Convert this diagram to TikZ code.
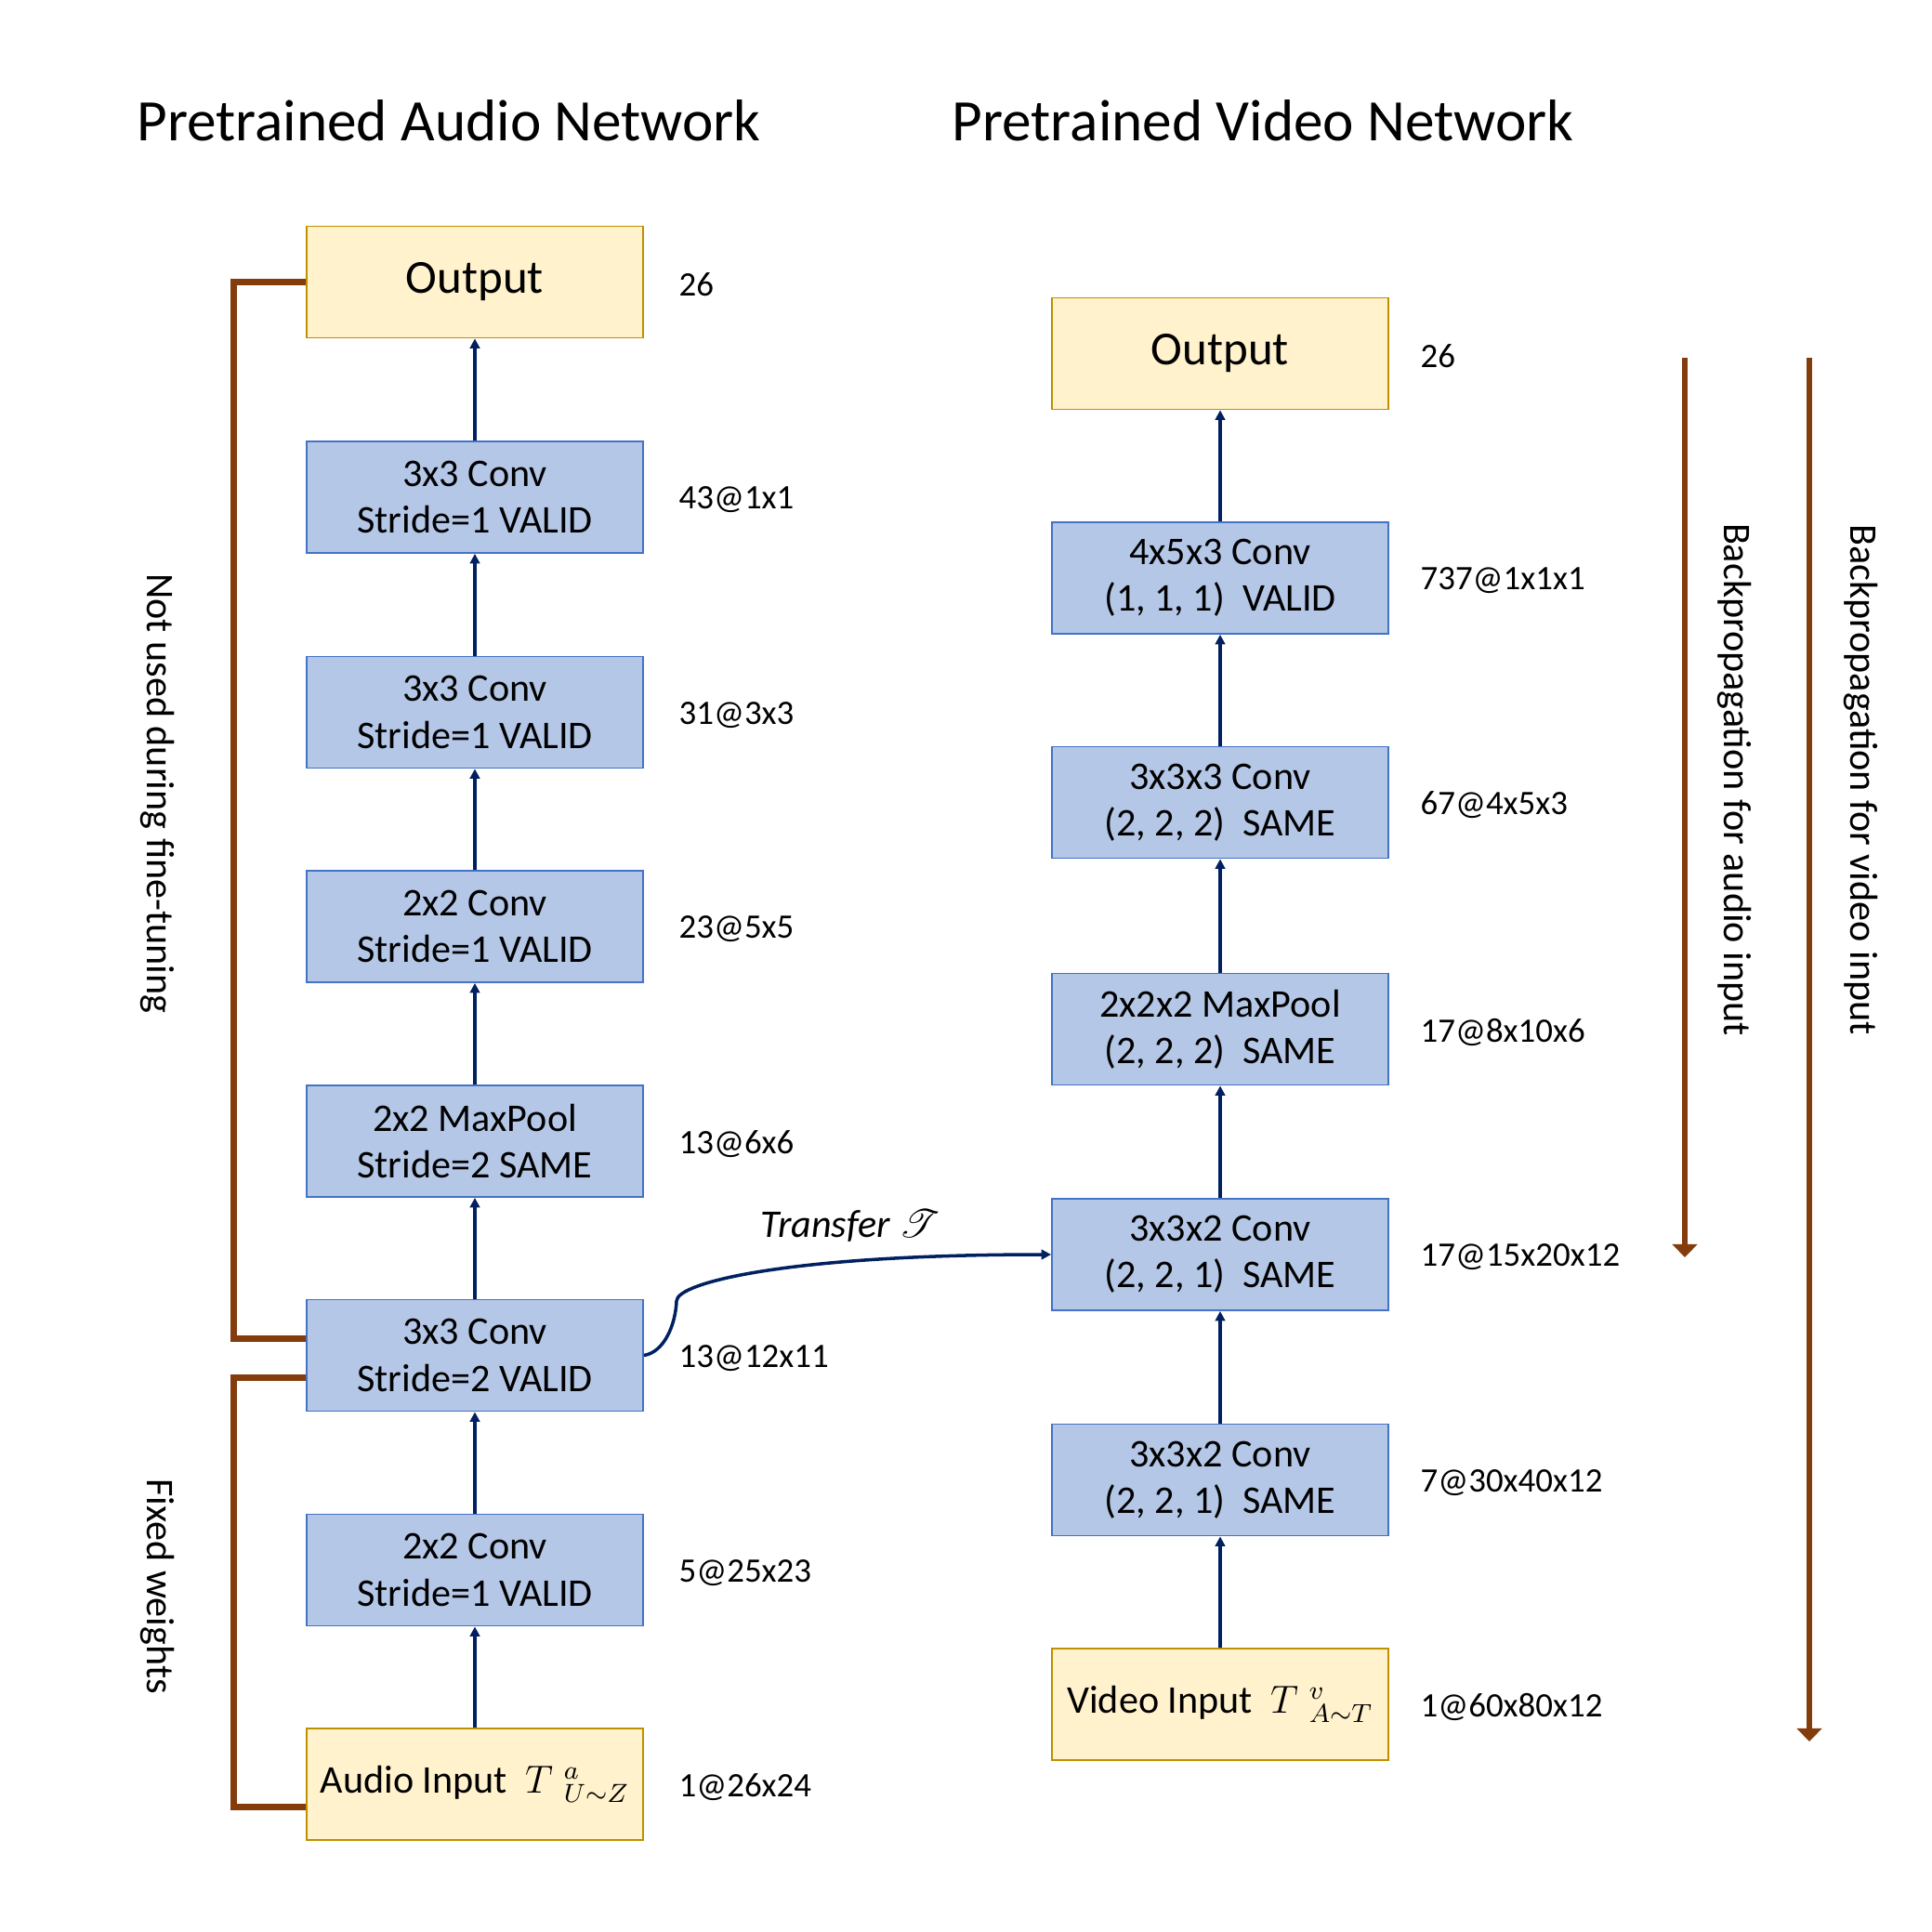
\documentclass[tikz,border=0pt]{standalone}
\usepackage{fontspec}
\setmainfont{Carlito}
\usepackage{amsmath, amssymb}
\usepackage{mathrsfs}
\usepackage{xcolor}
\usepackage{tikz}
\usetikzlibrary{arrows.meta, positioning}

\definecolor{layerblue}{HTML}{B4C7E7}
\definecolor{layerline}{HTML}{4472C4}
\definecolor{ioyellow}{HTML}{FFF2CC}
\definecolor{ioline}{HTML}{BF9000}
\definecolor{navy}{HTML}{002060}
\definecolor{rust}{HTML}{843C0C}

\tikzset{
  layer/.style={draw=layerline, line width=0.5pt, fill=layerblue, minimum width=3.62cm, minimum height=1.2cm, align=center, font=\fontsize{12}{14.3}\selectfont},
  iobox/.style={layer, draw=ioline, fill=ioyellow},
  outbox/.style={iobox, font=\fontsize{14.5}{17}\selectfont},
  dims/.style={font=\fontsize{10.5}{12}\selectfont, inner sep=0pt, yshift=-0.03cm},
  flow/.style={navy, line width=1pt, -{Triangle[length=3pt,width=3pt]}},
  bracket/.style={rust, line width=2pt},
  backprop/.style={rust, line width=1.75pt, -{Triangle[length=4pt,width=7.5pt]}},
  sidelabel/.style={rotate=-90, font=\fontsize{12}{14}\selectfont},
}

\begin{document}
\begin{tikzpicture}
        \fill[white] (0,0) rectangle (20.79,-20.79);
        \useasboundingbox (0,0) rectangle (20.79,-20.79);

        \node[font=\fontsize{18}{20}\selectfont] (atitle) at (4.83,-1.30) {Pretrained Audio Network};
        \node[font=\fontsize{18}{20}\selectfont] (vtitle) at (13.59,-1.30) {Pretrained Video Network};

        \node[outbox] (aout) at (5.11,-3.035) {Output};
        \node[layer] (aconv5) at (5.11,-5.35) {3x3 Conv\\Stride=1 VALID};
        \node[layer] (aconv4) at (5.11,-7.665) {3x3 Conv\\Stride=1 VALID};
        \node[layer] (aconv3) at (5.11,-9.97) {2x2 Conv\\Stride=1 VALID};
        \node[layer] (apool) at (5.11,-12.28) {2x2 MaxPool\\Stride=2 SAME};
        \node[layer] (aconv2) at (5.11,-14.585) {3x3 Conv\\Stride=2 VALID};
        \node[layer] (aconv1) at (5.11,-16.895) {2x2 Conv\\Stride=1 VALID};
        \node[iobox] (ain) at (5.11,-19.20) {Audio Input\ \ $T\;{}^{a}_{U\sim Z}$};

        \node[dims, right=0.37cm of aout] (aoutdim) {26};
        \node[dims, right=0.37cm of aconv5] (aconv5dim) {43@1x1};
        \node[dims, right=0.37cm of aconv4] (aconv4dim) {31@3x3};
        \node[dims, right=0.37cm of aconv3] (aconv3dim) {23@5x5};
        \node[dims, right=0.37cm of apool] (apooldim) {13@6x6};
        \node[dims, right=0.37cm of aconv2] (aconv2dim) {13@12x11};
        \node[dims, right=0.37cm of aconv1] (aconv1dim) {5@25x23};
        \node[dims, right=0.37cm of ain] (aindim) {1@26x24};

        \draw[flow] (ain) -- (aconv1);
        \draw[flow] (aconv1) -- (aconv2);
        \draw[flow] (aconv2) -- (apool);
        \draw[flow] (apool) -- (aconv3);
        \draw[flow] (aconv3) -- (aconv4);
        \draw[flow] (aconv4) -- (aconv5);
        \draw[flow] (aconv5) -- (aout);

        \node[outbox] (vout) at (13.13,-3.805) {Output};
        \node[layer] (vconv5) at (13.13,-6.22) {4x5x3 Conv\\(1, 1, 1)\ \ VALID};
        \node[layer] (vconv4) at (13.13,-8.635) {3x3x3 Conv\\(2, 2, 2)\ \ SAME};
        \node[layer] (vpool) at (13.13,-11.075) {2x2x2 MaxPool\\(2, 2, 2)\ \ SAME};
        \node[layer] (vconv3) at (13.13,-13.50) {3x3x2 Conv\\(2, 2, 1)\ \ SAME};
        \node[layer] (vconv2) at (13.13,-15.925) {3x3x2 Conv\\(2, 2, 1)\ \ SAME};
        \node[iobox] (vin) at (13.13,-18.34) {Video Input\ \ $T\;{}^{v}_{A\sim T}$};

        \node[dims, right=0.33cm of vout] (voutdim) {26};
        \node[dims, right=0.33cm of vconv5] (vconv5dim) {737@1x1x1};
        \node[dims, right=0.33cm of vconv4] (vconv4dim) {67@4x5x3};
        \node[dims, right=0.33cm of vpool] (vpooldim) {17@8x10x6};
        \node[dims, right=0.33cm of vconv3] (vconv3dim) {17@15x20x12};
        \node[dims, right=0.33cm of vconv2] (vconv2dim) {7@30x40x12};
        \node[dims, right=0.33cm of vin] (vindim) {1@60x80x12};

        \draw[flow] (vin) -- (vconv2);
        \draw[flow] (vconv2) -- (vconv3);
        \draw[flow] (vconv3) -- (vpool);
        \draw[flow] (vpool) -- (vconv4);
        \draw[flow] (vconv4) -- (vconv5);
        \draw[flow] (vconv5) -- (vout);

        \draw[flow] (aconv2.east) .. controls (7.15,-14.55) and (7.27,-14.25) .. (7.28,-14.0)
            .. controls (7.28,-13.8) and (8.5,-13.5) .. (vconv3.west);
        \node[font=\itshape\fontsize{12}{14}\selectfont] (transfer) at (9.15,-13.19) {Transfer $\mathscr{T}$};

        \draw[bracket] (aout.west) -- ++(-0.78,0) |- ([yshift=0.18cm]aconv2.west);
        \draw[bracket] ([yshift=-0.24cm]aconv2.west) -- ++(-0.78,0) |- ([yshift=-0.24cm]ain.west);
        \node[sidelabel] (unused) at (1.70,-8.54) {Not used during fine-tuning};
        \node[sidelabel] (fixed) at (1.70,-17.07) {Fixed weights};

        \coordinate (bpatop) at (18.13,-3.85);
        \coordinate (bpaend) at (18.13,-13.53);
        \coordinate (bpvtop) at (19.47,-3.85);
        \coordinate (bpvend) at (19.47,-18.74);
        \draw[backprop] (bpatop) -- (bpaend);
        \draw[backprop] (bpvtop) -- (bpvend);
        \node[sidelabel] (bpatext) at (18.66,-8.39) {Backpropagation for audio input};
        \node[sidelabel] (bpvtext) at (20.02,-8.39) {Backpropagation for video input};
    \end{tikzpicture}
\end{document}
